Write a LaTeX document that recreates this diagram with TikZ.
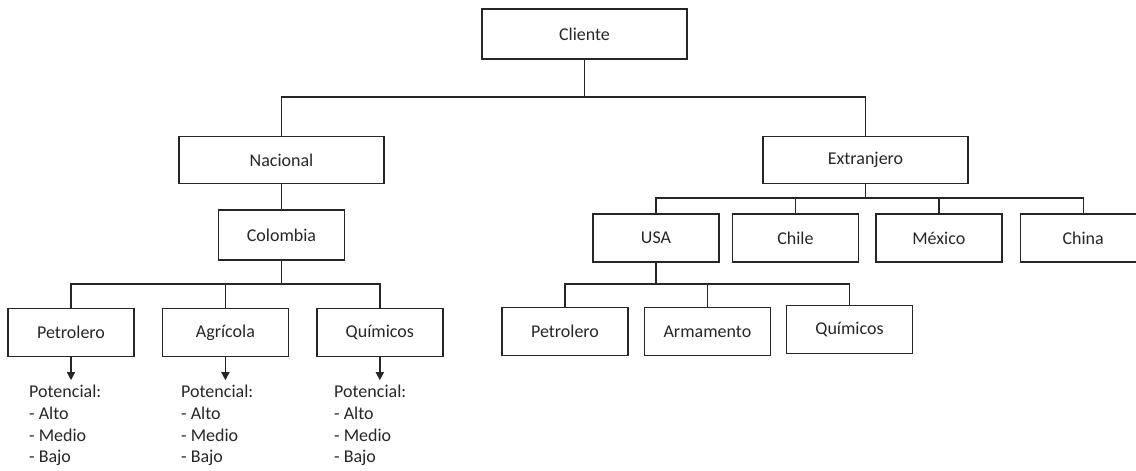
\documentclass[tikz,border=0pt]{standalone}
\usepackage{fontspec}
\setmainfont{Carlito}
\usetikzlibrary{positioning}
\usetikzlibrary{arrows.meta}

\tikzset{
   box/.style={draw=black!85, line width=1.4pt, text=black!85,
      minimum width=126pt, minimum height=48pt, inner sep=0pt},
   widebox/.style={box, minimum width=205pt},
   link/.style={draw=black!85, line width=1.4pt},
   arr/.style={link, -{Triangle[width=8pt,length=8pt]}, shorten >=5pt},
   levels/.style={align=left, anchor=north west, inner sep=0pt, text=black!85}
}

\begin{document}
\begin{tikzpicture}[x=1pt, y=-1pt, font=\fontsize{18}{21.6}\selectfont]
   \useasboundingbox (0,0) rectangle (1136,471);

   % top
   \node[widebox, minimum height=50pt] (cliente) at (584.5,34) {Cliente};
   \node[widebox, minimum height=47pt] (nac) at (281.5,160) {Nacional};
   \node[widebox, minimum height=47pt] (ext) at (865.5,160) {Extranjero};

   % national side
   \node[box, minimum height=50pt, below=25pt of nac] (col) {Colombia};
   \node[box] (petL) at (71,332.5) {Petrolero};
   \node[box, right=27pt of petL] (agr) {Agrícola};
   \node[box, right=27pt of agr] (quiL) {Químicos};

   % foreign side
   \node[box] (usa) at (656,238) {USA};
   \node[box, right=12pt of usa] (chile) {Chile};
   \node[box, right=16pt of chile] (mex) {México};
   \node[box, right=17pt of mex] (china) {China};

   \node[box] (petR) at (565,331.5) {Petrolero};
   \node[box, right=15pt of petR] (arm) {Armamento};
   \node[box] (quiR) at (849.5,329.5) {Químicos};

   % potential levels
   \node[levels] (potL) at (29,385.2)  {Potencial:\\- Alto\\- Medio\\- Bajo};
   \node[levels] (potA) at (181,385.2) {Potencial:\\- Alto\\- Medio\\- Bajo};
   \node[levels] (potQ) at (334,385.2) {Potencial:\\- Alto\\- Medio\\- Bajo};

   % bus points
   \coordinate (b1) at (cliente.south |- 0,97);
   \coordinate (b2) at (ext.south |- 0,198);
   \coordinate (b3) at (col.south |- 0,284);
   \coordinate (b4) at (usa.south |- 0,284);

   \draw[link] (cliente.south) -- (b1);
   \draw[link] (nac.north) |- (b1) -| (ext.north);

   \draw[link] (nac.south) -- (col.north);
   \draw[link] (col.south) -- (b3);
   \draw[link] (petL.north) |- (b3) -| (quiL.north);
   \draw[link] (agr.north) -- (agr.north |- b3);

   \draw[link] (ext.south) -- (b2);
   \draw[link] (usa.north) |- (b2) -| (china.north);
   \draw[link] (chile.north) -- (chile.north |- b2);
   \draw[link] (mex.north) -- (mex.north |- b2);

   \draw[link] (usa.south) -- (b4);
   \draw[link] (petR.north) |- (b4) -| (quiR.north);
   \draw[link] (arm.north) -- (arm.north |- b4);

   \draw[arr] (petL.south) -- (petL.south |- potL.north);
   \draw[arr] (agr.south) -- (agr.south |- potA.north);
   \draw[arr] (quiL.south) -- (quiL.south |- potQ.north);
\end{tikzpicture}
\end{document}
